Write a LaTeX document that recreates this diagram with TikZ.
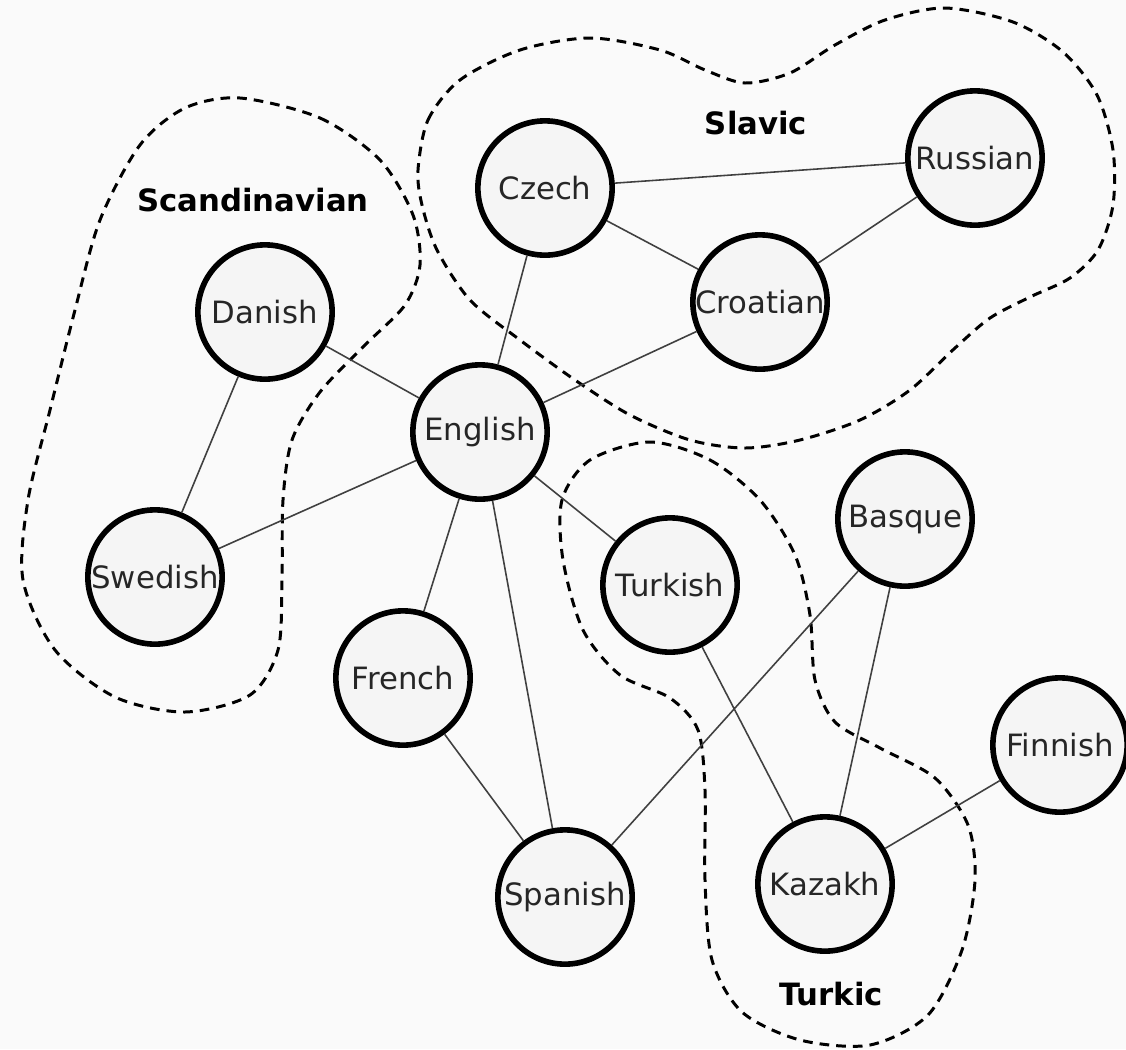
\documentclass[tikz,border=0pt]{standalone}
\usepackage{fontspec}
\setmainfont{DejaVu Sans}
\usetikzlibrary{positioning,calc}

\begin{document}
\begin{tikzpicture}[x=0.02cm,y=-0.02cm,
			lang/.style={circle,draw=black,line width=3.2pt,fill=white!96!black,inner sep=0pt,minimum size=2.686cm,text=black!85,font=\fontsize{17.5}{21}\selectfont},
			grp/.style={font=\fontsize{17.5}{21}\selectfont\bfseries},
			blob/.style={black,line width=1.7pt,dash pattern=on 5.5pt off 4pt},
			link/.style={black!75,line width=0.9pt}]
		\fill [white!98!black] (0,0) rectangle (1126,1049);
		\useasboundingbox (0,0) rectangle (1126,1049);
		\draw [blob] plot [smooth cycle] coordinates {(240,98) (320,118) (380,160) (413,215) (420,265) (405,305) (365,345) (320,392) (292,440) (283,500) (282,580) (278,650) (250,695) (185,712) (115,697) (55,650) (23,580) (28,500) (50,410) (75,310) (100,220) (140,145) (185,108)};
		\draw [blob] plot [smooth cycle] coordinates {(418,170) (428,120) (460,80) (520,50) (590,38) (660,50) (705,70) (745,83) (790,73) (835,45) (885,20) (945,8) (1013,22) (1063,52) (1097,95) (1113,150) (1113,205) (1098,250) (1070,278) (1030,297) (990,318) (955,348) (910,390) (860,420) (800,440) (745,448) (690,440) (630,415) (575,380) (520,340) (470,300) (437,250) (422,205)};
		\draw [blob] plot [smooth cycle] coordinates {(650,442) (710,460) (760,500) (795,555) (810,615) (815,680) (835,722) (880,748) (935,778) (968,825) (975,880) (962,950) (928,1015) (870,1045) (800,1040) (742,1012) (712,960) (705,880) (705,790) (698,730) (670,698) (620,675) (583,630) (563,560) (562,500) (590,460)};
		\path 	(545,188) node (czech) [lang] {Czech}
			(975,158) node (russian) [lang] {Russian}
			(760,302) node (croatian) [lang] {Croatian}
			(265,312) node (danish) [lang] {Danish}
			(480,432) node (english) [lang] {English}
			(155,577) node (swedish) [lang] {Swedish}
			(670,585) node (turkish) [lang] {Turkish}
			(905,519) node (basque) [lang] {Basque}
			(403,678) node (french) [lang] {French}
			(1060,745) node (finnish) [lang] {Finnish}
			(825,884) node (kazakh) [lang] {Kazakh}
			(565,897) node (spanish) [lang] {Spanish};
		\path 	(253,200) node (scand) [grp] {Scandinavian}
			(756,123) node (slavic) [grp] {Slavic}
			(831,994) node (turkic) [grp] {Turkic};
		\draw [link] (czech) -- (russian) -- (croatian) -- (czech) -- (english) -- (croatian);
		\draw [link] (danish) -- (english) -- (swedish) -- (danish);
		\draw [link] (english) -- (turkish) -- (kazakh) -- (basque) -- (spanish);
		\draw [link] (english) -- (french) -- (spanish) -- (english);
		\draw [link] (kazakh) -- (finnish);
	\end{tikzpicture}
\end{document}
